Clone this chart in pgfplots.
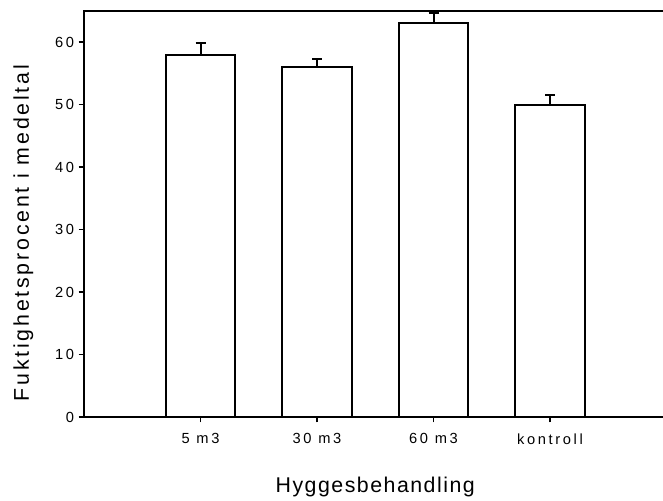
\documentclass[border=0pt]{standalone}
\usepackage{pgfplots}
\pgfplotsset{compat=1.18}
\usepackage{fontspec}
\setmainfont{Liberation Sans}
\newfontfamily\tickfont[LetterSpace=18]{Liberation Sans}
\newfontfamily\xlabfont[LetterSpace=7]{Liberation Sans}
\newfontfamily\ylabfont[LetterSpace=13]{Liberation Sans}
\begin{document}
\begin{tikzpicture}
\begin{axis}[
  scale only axis,
  width=436.875pt, height=304.5pt,
  xmin=0, xmax=5, ymin=0, ymax=65,
  axis line style={line width=1.5pt},
  tick style={line width=1.2pt, black},
  tick align=outside,
  major tick length=4pt,
  xtick pos=bottom, ytick pos=left,
  xtick={1,2,3,4},
  xticklabels={5 m3, 30 m3, 60 m3, kontroll},
  ytick={0,10,20,30,40,50,60},
  /pgf/number format/assume math mode=true,
  tick label style={font=\tickfont\fontsize{11}{13}\selectfont},
  xticklabel style={yshift=-5pt},
  yticklabel style={xshift=0pt},
  xlabel={Hyggesbehandling},
  ylabel={Fuktighetsprocent i medeltal},
  xlabel style={font=\xlabfont\fontsize{16}{19}\selectfont, at={(axis description cs:0.5,-0.187)}, anchor=base},
  ylabel style={font=\ylabfont\fontsize{16}{19}\selectfont, at={(axis description cs:-0.104,0.453)}, anchor=center},
  clip=false,
]
\addplot[ybar, bar width=0.6, fill=white, draw=black, line width=1.5pt,
  error bars/.cd, y dir=plus, y explicit,
  error bar style={line width=1.5pt, black},
  error mark options={rotate=90, mark size=3.75pt, line width=1.5pt, black}]
  table[x=x, y=y, y error=e] {
  x y e
  1 58 1.8
  2 56 1.25
  3 63 1.7
  4 50 1.6
};
\coordinate (O) at (rel axis cs:0,0);
\end{axis}
\pgfresetboundingbox
\path[use as bounding box] ([shift={(-63pt,-62.25pt)}]O) rectangle ++(497.25pt,375pt);
\end{tikzpicture}
\end{document}
